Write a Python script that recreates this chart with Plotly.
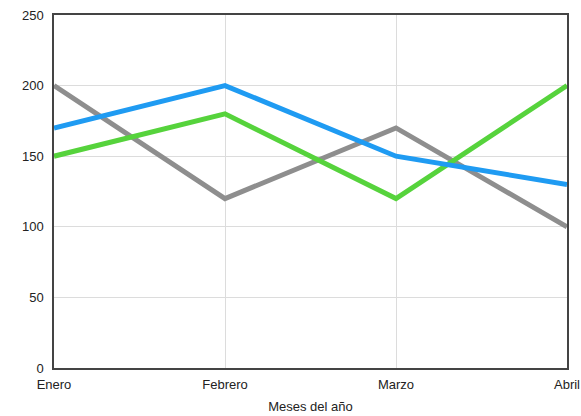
import plotly.graph_objects as go

months = ["Enero", "Febrero", "Marzo", "Abril"]
serie_gris = [200, 120, 170, 100]
serie_azul = [170, 200, 150, 130]
serie_verde = [150, 180, 120, 200]

fig = go.Figure()
for vals, color in [(serie_gris, "#8e8e8e"), (serie_verde, "#56d33c"), (serie_azul, "#1f9bf2")]:
    fig.add_trace(go.Scatter(x=months, y=vals, mode="lines",
                             line=dict(color=color, width=5), showlegend=False))

fig.update_layout(
    width=581, height=416,
    margin=dict(l=54, r=14, t=15, b=48),
    paper_bgcolor="white", plot_bgcolor="white",
    font=dict(family="Liberation Sans, Arial, sans-serif", size=13, color="#222"),
    xaxis=dict(
        range=[0, 3], showgrid=True, gridcolor="#dcdcdc", gridwidth=1,
        showline=True, linecolor="#444", linewidth=1.5, mirror=True,
        ticks="", zeroline=False, automargin=False, ticklabelstandoff=4,
        title=dict(text="Meses del año", font=dict(size=13), standoff=11),
    ),
    yaxis=dict(
        range=[0, 250], dtick=50, showgrid=True, gridcolor="#dcdcdc", gridwidth=1,
        showline=True, linecolor="#444", linewidth=1.5, mirror=True,
        ticks="", zeroline=False, ticklabelstandoff=6, automargin=False,
    ),
)

fig.write_html("out.html")
